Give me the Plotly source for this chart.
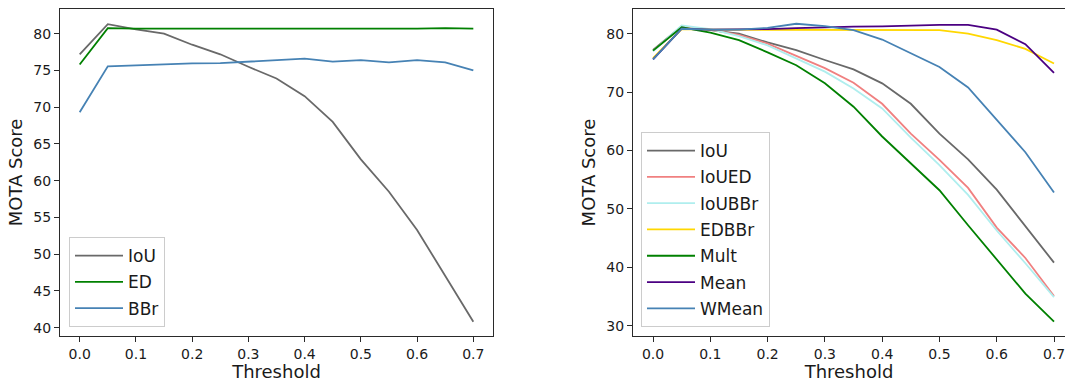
import plotly.graph_objects as go

thresholds = [0.0, 0.05, 0.1, 0.15, 0.2, 0.25, 0.3, 0.35, 0.4, 0.45, 0.5, 0.55, 0.6, 0.65, 0.7]

# Left panel
iou = [77.2, 81.3, 80.6, 80.0, 78.5, 77.2, 75.5, 73.9, 71.5, 68.0, 62.9, 58.5, 53.3, 47.0, 40.8]
ed = [75.8, 80.75, 80.7, 80.7, 80.7, 80.7, 80.7, 80.7, 80.65, 80.6, 80.6, 80.7, 80.7, 80.75, 80.7]
bbr = [69.3, 75.55, 75.7, 75.85, 75.95, 76.0, 76.2, 76.4, 76.6, 76.2, 76.4, 76.1, 76.4, 76.1, 75.0]

# Right panel
iou_ed = [77.1, 81.2, 80.7, 79.8, 78.3, 76.2, 74.1, 71.6, 68.0, 62.9, 58.4, 53.6, 46.8, 41.6, 35.1]
iou_bbr = [77.0, 81.4, 80.8, 79.6, 78.0, 75.8, 73.5, 70.6, 67.2, 62.2, 57.5, 52.4, 46.3, 40.7, 34.9]
ed_bbr = [75.8, 80.8, 80.7, 80.7, 80.7, 80.7, 80.7, 80.7, 80.7, 80.7, 80.6, 80.0, 78.9, 77.4, 74.9]
mult = [77.1, 81.1, 80.2, 78.9, 76.8, 74.6, 71.5, 67.5, 62.4, 57.8, 53.2, 47.2, 41.4, 35.5, 30.7]
mean = [75.6, 80.85, 80.7, 80.7, 80.8, 80.95, 81.1, 81.2, 81.25, 81.4, 81.5, 81.5, 80.7, 78.2, 73.3]
wmean = [75.6, 80.85, 80.7, 80.7, 81.0, 81.7, 81.3, 80.6, 79.0, 76.6, 74.3, 70.8, 65.3, 59.7, 52.8]

x_ticks = [0.0, 0.1, 0.2, 0.3, 0.4, 0.5, 0.6, 0.7]
left_y_ticks = [40, 45, 50, 55, 60, 65, 70, 75, 80]
right_y_ticks = [30, 40, 50, 60, 70, 80]

C_GRAY = "#696969"
C_GREEN = "#008000"
C_STEEL = "#4682B4"
C_CORAL = "#F08080"
C_TURQ = "#AFEEEE"
C_GOLD = "#FFD700"
C_INDIGO = "#4B0082"

FONT = "DejaVu Sans"
LW = 1.8
FRAME = "#2a2a2a"
TXT = "#1a1a1a"

fig = go.Figure()

def add(xa, ya, y, name, color, legend):
    fig.add_trace(go.Scatter(x=thresholds, y=y, mode="lines", name=name,
                             line=dict(color=color, width=LW),
                             legendgroup=legend + name,
                             xaxis=xa, yaxis=ya, legend=legend))

add("x", "y", iou, "IoU", C_GRAY, "legend")
add("x", "y", ed, "ED", C_GREEN, "legend")
add("x", "y", bbr, "BBr", C_STEEL, "legend")

add("x2", "y2", iou, "IoU", C_GRAY, "legend2")
add("x2", "y2", iou_ed, "IoUED", C_CORAL, "legend2")
add("x2", "y2", iou_bbr, "IoUBBr", C_TURQ, "legend2")
add("x2", "y2", ed_bbr, "EDBBr", C_GOLD, "legend2")
add("x2", "y2", mult, "Mult", C_GREEN, "legend2")
add("x2", "y2", mean, "Mean", C_INDIGO, "legend2")
add("x2", "y2", wmean, "WMean", C_STEEL, "legend2")

W, H = 1065, 382
ydom = [(H - 336) / H, (H - 9) / H]

axis_common = dict(showgrid=False, zeroline=False, showline=True, linecolor=FRAME,
                   linewidth=1, ticks="outside", ticklen=5, tickwidth=1, tickcolor=FRAME,
                   ticklabeloverflow="allow",
                   tickfont=dict(family=FONT, size=14, color=TXT))

title_font = dict(family=FONT, size=18, color=TXT)

legend_common = dict(font=dict(family=FONT, size=17, color=TXT),
                     bgcolor="rgba(255,255,255,0.8)", bordercolor="#cccccc", borderwidth=1,
                     xanchor="left", yanchor="bottom", tracegroupgap=1.2, itemwidth=48)

fig.update_layout(
    width=W, height=H,
    margin=dict(l=0, r=0, t=0, b=0),
    paper_bgcolor="white", plot_bgcolor="white",
    showlegend=True,
    xaxis=dict(domain=[60 / W, 493 / W], range=[-0.035, 0.735], anchor="y",
               tickvals=x_ticks, tickformat=".1f", mirror=True,
               title=dict(text="Threshold", font=title_font, standoff=3),
               **axis_common),
    yaxis=dict(domain=ydom, range=[38.87, 83.36], anchor="x",
               tickvals=left_y_ticks, mirror=True,
               title=dict(text="MOTA Score", font=title_font, standoff=6),
               **axis_common),
    xaxis2=dict(domain=[633 / W, 1.0], range=[-0.035, 0.7192], anchor="y2",
                tickvals=x_ticks, tickformat=".1f", mirror=True,
                title=dict(text="Threshold", font=title_font, standoff=3),
                **axis_common),
    yaxis2=dict(domain=ydom, range=[28.24, 84.23], anchor="x2",
                tickvals=right_y_ticks, mirror=False,
                title=dict(text="MOTA Score", font=title_font, standoff=6),
                **axis_common),
    legend=dict(x=69 / W, y=(H - 327) / H, **legend_common),
    legend2=dict(x=641 / W, y=(H - 327) / H, **legend_common),
)

fig.write_html("out.html")
